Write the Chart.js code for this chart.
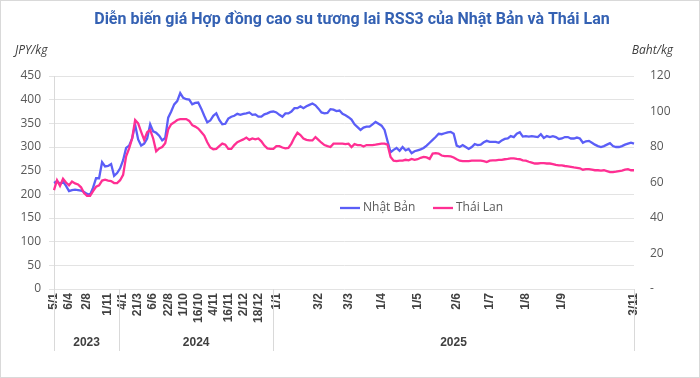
<!DOCTYPE html>
<html><head><meta charset="utf-8">
<script src="https://cdn.jsdelivr.net/npm/chart.js@4"></script>
<style>
html,body{margin:0;padding:0;background:#fff;}
canvas{display:block;}
</style></head>
<body>
<canvas id="c" width="700" height="378"></canvas>
<script>
// ---- data ----
const japan = [
224,228,222,227,218,207,209,210,209,208,
205,201,199,214,234,234,268,259,260,264,
239,245,255,272,298,303,318,347,316,303,
307,318,348,333,330,324,314,319,362,375,
390,397,414,404,401,400,390,393,394,381,
366,352,356,366,371,357,348,349,360,364,
366,370,368,370,371,373,368,369,364,364,
369,371,374,375,373,368,364,371,371,375,
382,382,386,382,386,389,392,388,381,373,
371,372,380,379,376,377,370,367,363,358,
348,342,336,341,343,343,348,353,349,345,
336,312,289,294,298,292,300,293,296,287,
291,293,295,298,303,309,315,321,328,327,
329,331,332,328,303,300,304,300,296,300,
306,304,305,310,313,311,311,311,309,314,
317,318,323,321,328,331,322,323,322,323,
322,321,327,319,323,321,323,321,317,318,
321,321,318,318,320,318,309,312,313,309,
305,302,300,302,305,308,302,300,300,302,
305,307,309,307];
const thai = [
55.7,61.3,58.1,62.1,60.0,58.4,60.5,59.5,58.9,57.3,
54.1,52.5,52.5,55.2,57.6,58.4,61.1,61.6,61.1,60.8,
59.7,59.7,61.3,64.3,74.7,79.2,84.8,95.2,93.3,88.5,
84.0,88.3,89.6,84.8,77.6,79.2,80.0,82.1,89.9,92.8,
93.9,95.2,95.7,95.7,95.7,94.7,92.3,91.5,90.4,88.5,
86.4,82.7,79.7,78.7,78.9,80.5,81.9,81.3,78.9,78.9,
81.1,82.7,83.5,84.3,85.3,84.0,84.8,84.3,84.8,83.2,
80.8,79.2,78.9,78.9,80.5,80.5,79.7,79.2,79.5,81.9,
85.3,88.0,86.7,84.8,84.0,83.7,83.7,85.6,84.0,82.4,
81.1,80.5,80.0,81.9,81.9,81.9,81.9,81.6,81.9,80.0,
81.6,81.1,81.1,80.3,81.1,81.1,81.1,81.3,81.6,81.9,
81.9,81.3,74.4,72.3,72.0,72.3,72.3,72.8,72.5,73.3,
72.8,73.1,73.9,74.4,74.1,73.3,76.3,76.5,76.3,75.2,
74.9,74.9,74.7,74.1,73.1,72.3,72.0,72.0,72.0,72.3,
72.3,72.3,72.3,72.0,71.5,72.3,72.5,72.5,72.8,72.8,
73.1,73.3,73.6,73.6,73.3,73.1,72.5,72.3,71.7,71.2,
70.7,70.7,70.9,70.9,70.7,70.7,70.4,69.9,69.6,69.6,
69.3,69.1,68.8,68.5,68.3,68.0,67.2,67.5,67.5,67.2,
66.9,66.9,66.7,66.9,66.4,65.9,65.9,66.1,66.4,66.7,
67.2,67.5,66.9,66.9];
const tickIdx = [0,5,11,18,23,28,33,38,43,48,53,58,63,68,74,88,98,109,121,134,145,157,169,193];
const tickTxt = ['5/1','6/4','2/8','1/11','4/1','21/3','6/6','22/8','1/10','16/10','4/11','16/11','2/12','18/12','1/1','3/2','3/3','1/4','1/5','2/6','1/7','1/8','1/9','3/11'];
const yearNames = ['2023','2024','2025'];
const yearBounds = [0, 21.7, 72.9, 193];
const seriesNames = ['Nhật Bản','Thái Lan'];

const categories = japan.map((_, i) => { const k = tickIdx.indexOf(i); return k >= 0 ? tickTxt[k] : ''; });

const BLUE = '#5b5ef7', PINK = '#ff2f93';

const decor = {
  id: 'decor',
  afterDraw(chart) {
    const ctx = chart.ctx, xs = chart.scales.x, area = chart.chartArea;
    ctx.save();
    // border
    ctx.strokeStyle = '#d9d9d9'; ctx.lineWidth = 1;
    ctx.strokeRect(0.5, 0.5, 699, 377);
    // title
    ctx.fillStyle = '#3461b3';
    ctx.font = 'bold 16px Roboto';
    ctx.textAlign = 'center'; ctx.textBaseline = 'middle';
    ctx.fillText('Diễn biến giá Hợp đồng cao su tương lai RSS3 của Nhật Bản và Thái Lan', 352, 20);
    // axis titles
    ctx.fillStyle = '#404040';
    ctx.font = 'italic 12px "Open Sans"';
    ctx.textAlign = 'left';
    ctx.fillText('JPY/kg', 15, 51);
    ctx.textAlign = 'right';
    ctx.fillText('Baht/kg', 673, 51);
    // year separators and labels
    ctx.strokeStyle = '#d9d9d9';
    yearBounds.forEach(b => {
      const px = Math.round(xs.getPixelForValue(b)) + 0.5;
      ctx.beginPath(); ctx.moveTo(px, area.bottom); ctx.lineTo(px, 351); ctx.stroke();
    });
    ctx.fillStyle = '#404040';
    ctx.font = 'bold 12px "Liberation Sans"';
    ctx.textAlign = 'center';
    yearNames.forEach((n, i) => {
      const a = xs.getPixelForValue(yearBounds[i]), b = xs.getPixelForValue(yearBounds[i + 1]);
      ctx.fillText(n, (a + b) / 2, 343);
    });
    // legend
    ctx.font = '12px "Open Sans"';
    ctx.fillStyle = '#595959';
    ctx.textAlign = 'left';
    ctx.lineWidth = 2.3;
    ctx.strokeStyle = BLUE;
    ctx.beginPath(); ctx.moveTo(340, 208); ctx.lineTo(360, 208); ctx.stroke();
    ctx.fillText(seriesNames[0], 363, 208);
    ctx.strokeStyle = PINK;
    ctx.beginPath(); ctx.moveTo(433, 208); ctx.lineTo(453, 208); ctx.stroke();
    ctx.fillText(seriesNames[1], 456, 208);
    ctx.restore();
  }
};

new Chart(document.getElementById('c'), {
  type: 'line',
  data: {
    labels: categories,
    datasets: [
      { label: seriesNames[0], data: japan, yAxisID: 'y', borderColor: BLUE, borderWidth: 2.3, pointRadius: 0, tension: 0, fill: false, order: 1 },
      { label: seriesNames[1], data: thai, yAxisID: 'y1', borderColor: PINK, borderWidth: 2.3, pointRadius: 0, tension: 0, fill: false, order: 0 }
    ]
  },
  options: {
    responsive: false,
    animation: false,
    layout: { padding: { top: 76, left: 0, right: 0, bottom: 0 } },
    plugins: { legend: { display: false }, tooltip: { enabled: false } },
    scales: {
      x: {
        type: 'category', offset: false,
        grid: { display: false, drawTicks: false },
        border: { display: false },
        ticks: { autoSkip: false, maxRotation: 90, minRotation: 90, padding: 4,
                 font: { family: 'Liberation Sans', weight: 'bold', size: 12 }, color: '#404040' },
        afterFit(s) { s.height = 89; }
      },
      y: {
        position: 'left', min: 0, max: 450,
        ticks: { stepSize: 50, padding: 8, font: { family: 'Open Sans', size: 12 }, color: '#595959' },
        grid: { color: '#e3e3e3', tickLength: 5 },
        border: { color: '#d9d9d9' },
        afterFit(s) { s.width = 54; }
      },
      y1: {
        position: 'right', min: 0, max: 120,
        ticks: { stepSize: 20, padding: 16, font: { family: 'Open Sans', size: 12 }, color: '#595959',
                 callback: v => v === 0 ? '-' : v },
        grid: { display: false, drawTicks: false },
        border: { display: false },
        afterFit(s) { s.width = 66; }
      }
    }
  },
  plugins: [decor]
});
</script>
</body></html>
